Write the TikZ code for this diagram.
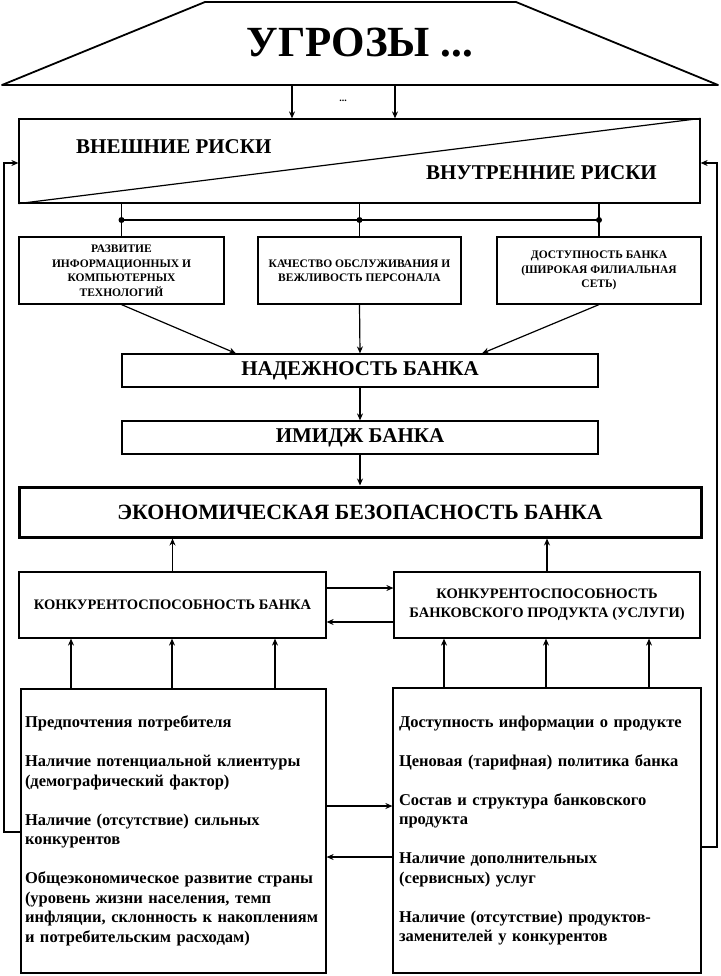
\documentclass[tikz,border=0pt]{standalone}
\usepackage{fontspec}
\setmainfont{Liberation Serif}
\usetikzlibrary{arrows.meta}
\begin{document}
\begin{tikzpicture}[x=1pt,y=-1pt,
  box/.style={draw,line width=1.2pt,rectangle,inner sep=0pt,font=\bfseries,align=center},
  arr/.style={line width=1.2pt,-{Stealth[length=7pt,width=6pt]}},
  ln/.style={line width=1.2pt},
  bigtxt/.style={font=\bfseries\fontsize{21}{24}\selectfont},
  smalltxt/.style={font=\bfseries\fontsize{11.5}{14.5}\selectfont},
  midtxt/.style={font=\bfseries\fontsize{14.5}{19}\selectfont},
  listtxt/.style={font=\bfseries\fontsize{16.5}{19.5}\selectfont,align=left}
]
\useasboundingbox (0,0) rectangle (720,976);
% threats trapezoid
\coordinate (tl) at (205,2);
\coordinate (tr) at (516,2);
\coordinate (br) at (718,85);
\coordinate (bl) at (2,85);
\draw[line width=1.8pt,line join=round] (bl) -- (tl) -- (tr) -- (br) -- cycle;
\node[font=\bfseries\fontsize{43}{46}\selectfont,inner sep=0pt,anchor=base] (ug) at (360,57) {УГРОЗЫ ...};
\coordinate (t1) at (292,85);
\coordinate (t2) at (395,85);
% risks
\node[box,minimum width=681pt,minimum height=84pt] (rk) at (359.5,161) {};
\draw[ln] (rk.south west) -- (rk.north east);
\node[bigtxt,inner sep=0pt,anchor=west] (ext) at (76,147) {ВНЕШНИЕ РИСКИ};
\node[bigtxt,inner sep=0pt,anchor=east] (int) at (657,173) {ВНУТРЕННИЕ РИСКИ};
\draw[arr] (t1) -- (t1 |- rk.north);
\draw[arr] (t2) -- (t2 |- rk.north);
\node[font=\bfseries\fontsize{10}{10}\selectfont,inner sep=0pt] (dots) at (343,101) {...};
% three factor boxes
\node[box,smalltxt,minimum width=205pt,minimum height=67pt] (b1) at (121.5,270.5)
  {РАЗВИТИЕ\\ИНФОРМАЦИОННЫХ И\\КОМПЬЮТЕРНЫХ\\ТЕХНОЛОГИЙ};
\node[box,smalltxt,minimum width=203pt,minimum height=67pt] (b2) at (359.5,270.5)
  {КАЧЕСТВО ОБСЛУЖИВАНИЯ И\\ВЕЖЛИВОСТЬ ПЕРСОНАЛА};
\node[box,smalltxt,minimum width=204pt,minimum height=67pt] (b3) at (599,270.5)
  {ДОСТУПНОСТЬ БАНКА\\(ШИРОКАЯ ФИЛИАЛЬНАЯ\\СЕТЬ)};
\coordinate (j1) at (b1.north |- 0,220);
\coordinate (j2) at (b2.north |- 0,220);
\coordinate (j3) at (b3.north |- 0,220);
\draw[ln] (rk.south -| b1.north) -- (b1.north);
\draw[ln] (rk.south -| b2.north) -- (b2.north);
\draw[ln] (rk.south -| b3.north) -- (b3.north);
\draw[ln] (j1) -- (j3);
\fill (j1) circle[radius=3];
\fill (j2) circle[radius=3];
\fill (j3) circle[radius=3];
% central chain
\node[box,bigtxt,minimum width=476pt,minimum height=33pt] (nd) at (360,370.5) {НАДЕЖНОСТЬ БАНКА};
\node[box,bigtxt,minimum width=476pt,minimum height=33pt] (im) at (360,437.5) {ИМИДЖ БАНКА};
\node[box,font=\bfseries\fontsize{21.8}{24}\selectfont,line width=3pt,minimum width=682pt,minimum height=50pt] (ek) at (360,512) {ЭКОНОМИЧЕСКАЯ БЕЗОПАСНОСТЬ БАНКА};
\draw[arr] (b1.south) -- ([xshift=-124pt]nd.north);
\draw[arr] (b2.south) -- (nd.north);
\draw[arr] (b3.south) -- ([xshift=122pt]nd.north);
\draw[arr] (nd.south) -- (im.north);
\draw[arr] (im.south) -- (ek.north);
% competitiveness
\node[box,midtxt,minimum width=307pt,minimum height=66pt] (kb) at (172.5,605) {КОНКУРЕНТОСПОСОБНОСТЬ БАНКА};
\node[box,midtxt,minimum width=306pt,minimum height=66pt] (kp) at (547,605) {КОНКУРЕНТОСПОСОБНОСТЬ\\БАНКОВСКОГО ПРОДУКТА (УСЛУГИ)};
\draw[arr] (kb.north) -- (kb.north |- ek.south);
\draw[arr] (kp.north) -- (kp.north |- ek.south);
\draw[arr] (kb.east |- 0,588) -- (kp.west |- 0,588);
\draw[arr] (kp.west |- 0,622) -- (kb.east |- 0,622);
% factor lists
\node[draw,line width=1.2pt,listtxt,inner xsep=4pt,inner ysep=0pt,text width=297pt,minimum height=284pt] (lb) at (173.5,831)
  {Предпочтения потребителя\\[19.5pt]
   Наличие потенциальной клиентуры\\
   (демографический фактор)\\[19.5pt]
   Наличие (отсутствие) сильных\\
   конкурентов\\[19.5pt]
   Общеэкономическое развитие страны\\
   (уровень жизни населения, темп\\
   инфляции, склонность к накоплениям\\
   и потребительским расходам)};
\node[draw,line width=1.2pt,listtxt,inner xsep=6pt,inner ysep=0pt,text width=296pt,minimum height=285pt] (rb) at (547,830.5)
  {Доступность информации о продукте\\[19.5pt]
   Ценовая (тарифная) политика банка\\[19.5pt]
   Состав и структура банковского\\
   продукта\\[19.5pt]
   Наличие дополнительных\\
   (сервисных) услуг\\[19.5pt]
   Наличие (отсутствие) продуктов-\\
   заменителей у конкурентов};
\foreach \x in {71,172,275} \draw[arr] (lb.north -| \x,0) -- (kb.south -| \x,0);
\foreach \x in {444,546,649} \draw[arr] (rb.north -| \x,0) -- (kp.south -| \x,0);
\draw[arr] (lb.east |- 0,806) -- (rb.west |- 0,806);
\draw[arr] (rb.west |- 0,857) -- (lb.east |- 0,857);
% feedback loops
\draw[arr] (lb.west |- 0,832) -- (4,832) |- (rk.west |- 0,163);
\draw[arr] (rb.east |- 0,847) -- (717,847) |- (rk.east |- 0,163);
\end{tikzpicture}
\end{document}
